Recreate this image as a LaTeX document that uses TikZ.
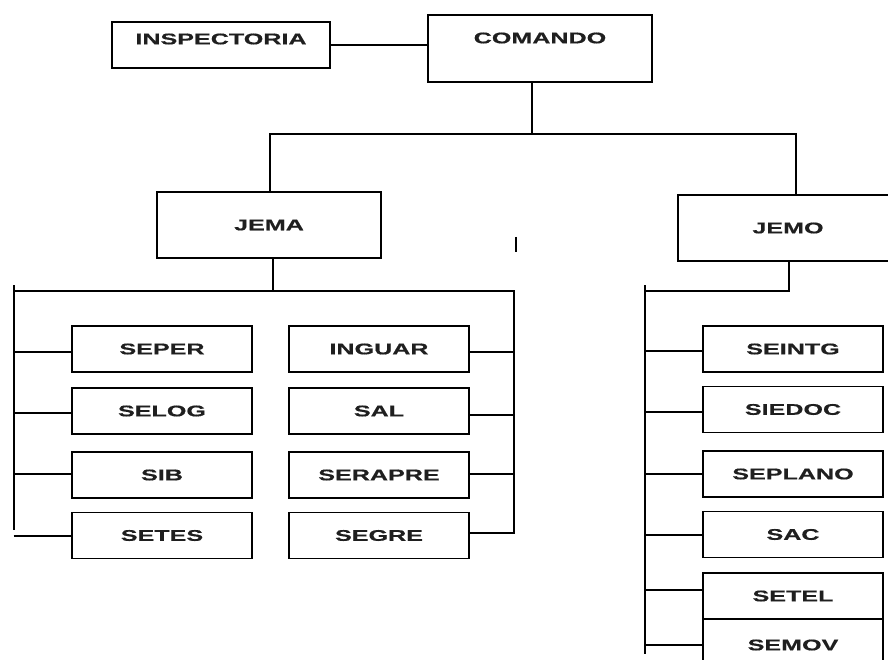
\documentclass[tikz,border=0pt]{standalone}
\usepackage{fontspec}
\newfontfamily\lblfont{Liberation Sans}[FakeStretch=1.62,FakeBold=0.6]
\begin{document}
\begin{tikzpicture}[x=1pt,y=-1pt,
  box/.style={draw=black, line width=1.5pt, rectangle, inner sep=0pt},
  lbl/.style={font=\lblfont\bfseries\fontsize{15.5}{17}\selectfont, text=black!88},
  sbox/.style={box, lbl, minimum width=180pt, minimum height=46pt},
  conn/.style={draw=black, line width=1.5pt}]
\useasboundingbox (0,0) rectangle (888,660);
\clip (0,0) rectangle (888,660);

% top level
\node[box, minimum width=218pt, minimum height=46pt] (insp) at (221,45) {};
\node[lbl] (insptxt) at (221,39) {INSPECTORIA};
\node[box, minimum width=224pt, minimum height=67pt] (com) at (540,48.5) {};
\node[lbl] (comtxt) at (540,38) {COMANDO};
\draw[conn] (insp.east) -- (insp.east -| com.west);

% second level
\node[box, lbl, minimum width=224pt, minimum height=66pt] (jema) at (269,225) {JEMA};
\node[box, lbl, minimum width=220pt, minimum height=66pt] (jemo) at (788,228) {JEMO};
\coordinate (cbot) at (532,82);
\coordinate (bus) at (532,134);
\draw[conn] (cbot) -- (bus);
\draw[conn] (270,192) |- (bus) -| (796,195);
\draw[conn] (516,237) -- (516,252);

% JEMA branch
\coordinate (jemabus) at (273,291);
\draw[conn] (273,258) -- (jemabus);
\draw[conn] (14,285) -- (14,291) -- (514,291) -- (514,533);
\draw[conn] (14,291) -- (14,530);

\node[sbox] (seper) at (162,349) {SEPER};
\node[sbox] (selog) at (162,411) {SELOG};
\node[sbox] (sib) at (162,475) {SIB};
\node[sbox] (setes) at (162,535.5) {SETES};
\node[sbox] (inguar) at (379,349) {INGUAR};
\node[sbox] (sal) at (379,411) {SAL};
\node[sbox] (serapre) at (379,475) {SERAPRE};
\node[sbox] (segre) at (379,535.5) {SEGRE};

\foreach \n/\y in {seper/352, selog/413, sib/474, setes/536}
  \draw[conn] (13.5,\y) -- (\n.west |- 0,\y);
\foreach \n/\y in {inguar/352, sal/415, serapre/474, segre/533}
  \draw[conn] (\n.east |- 0,\y) -- (514.7,\y);

% JEMO branch
\draw[conn] (jemo.south -| 789,0) -- (789,291) -- (645,291);
\draw[conn] (645,285) -- (645,654);

\node[sbox] (seintg) at (793,349) {SEINTG};
\node[sbox] (siedoc) at (793,409.5) {SIEDOC};
\node[sbox] (seplano) at (793,474) {SEPLANO};
\node[sbox] (sac) at (793,534.5) {SAC};
\node[sbox] (setel) at (793,596) {SETEL};
\node[sbox, minimum height=52pt] (semov) at (793,645) {SEMOV};

\foreach \n/\y in {seintg/351, siedoc/412, seplano/474, sac/535, setel/590, semov/645}
  \draw[conn] (645,\y) -- (\n.west |- 0,\y);
\end{tikzpicture}
\end{document}
